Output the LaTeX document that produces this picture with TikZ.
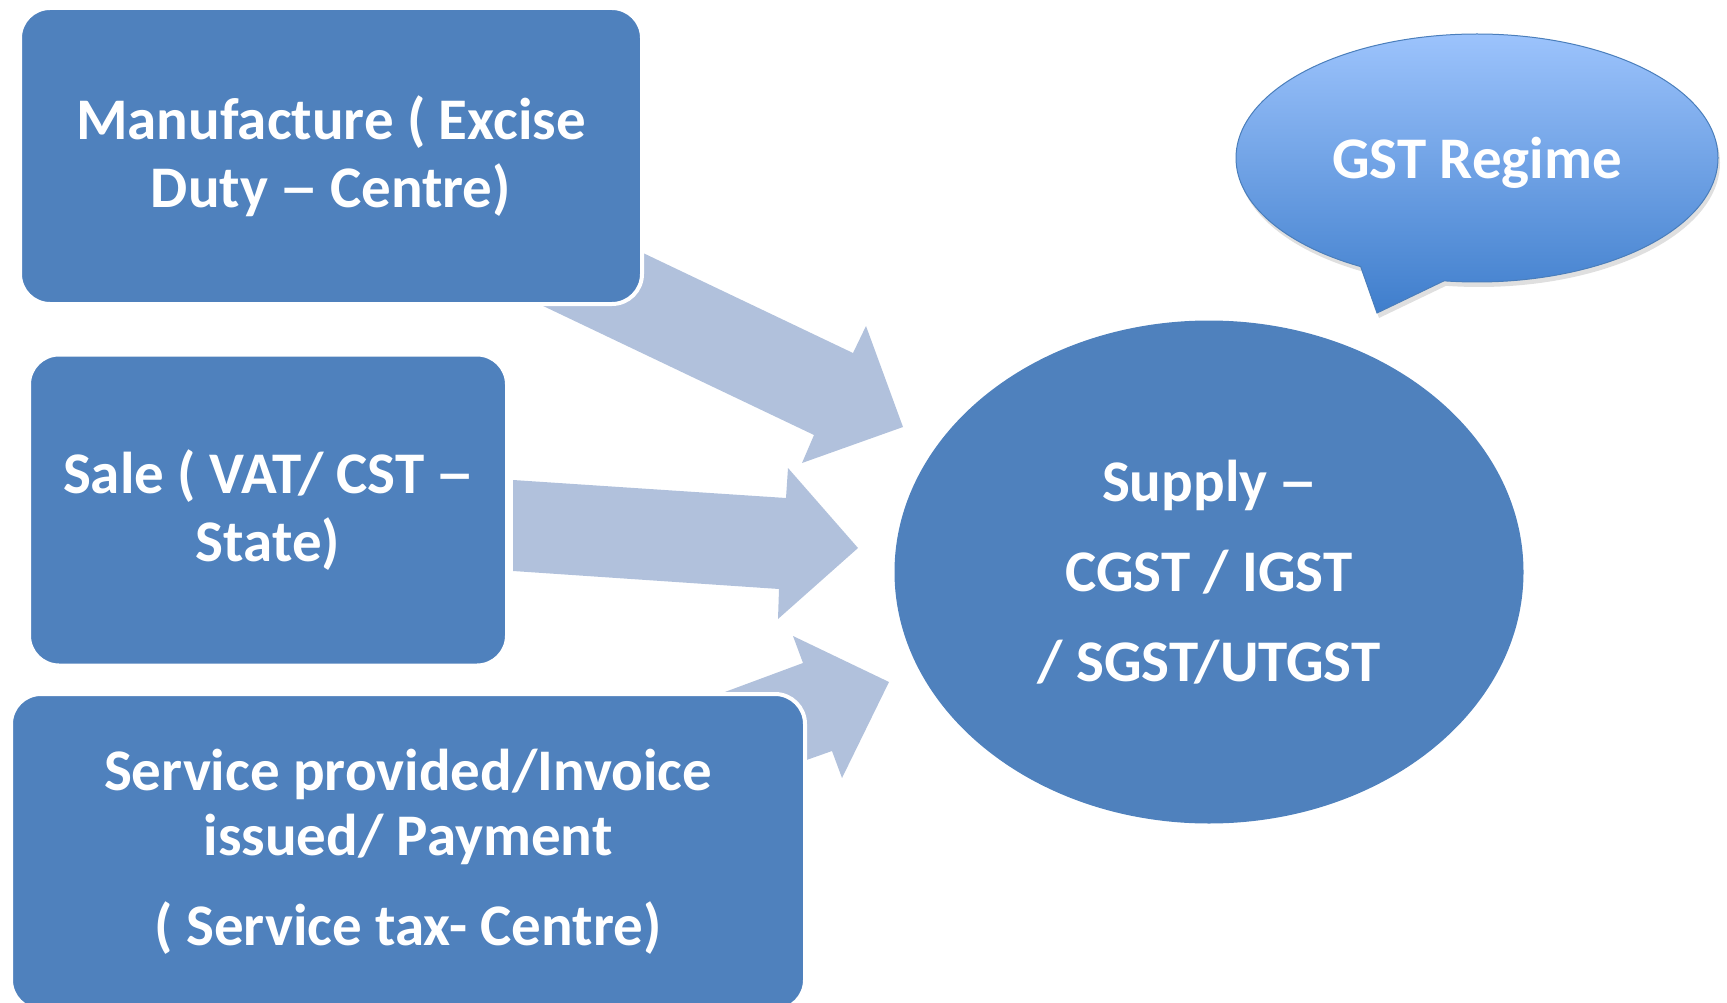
\documentclass[tikz,border=0pt]{standalone}
\usepackage{fontspec}
\setmainfont{Carlito}
\usetikzlibrary{shapes.geometric,shapes.callouts,shadows}
\definecolor{boxblue}{HTML}{4F81BD}
\definecolor{arrowblue}{HTML}{B1C1DC}
\definecolor{calltop}{HTML}{9CC3FC}
\definecolor{callbot}{HTML}{3F7ECC}
\definecolor{callline}{HTML}{4A7EBB}
\newcommand\longdash{\scalebox{0.66}[1]{---}}
\tikzset{
  stepbox/.style={rectangle, rounded corners=30pt, fill=boxblue, draw=white, line width=4pt,
    text=white, font=\bfseries\fontsize{59}{68}\selectfont, align=center, inner sep=0pt},
  blockarrow/.style={fill=arrowblue},
}
\begin{document}
\begin{tikzpicture}[x=1pt,y=-1pt]
\useasboundingbox (0,0) rectangle (1727,1003);
% block arrows
\fill[blockarrow] (557,212) -- (853,353) -- (866,326) -- (903,427) -- (802,463) -- (814,435) -- (518,294) -- cycle;
\fill[blockarrow] (513,480) -- (786,498) -- (788,468) -- (858,548) -- (778,619) -- (779,589) -- (513,571) -- cycle;
\fill[blockarrow] (679,709) -- (803,663) -- (793,636) -- (889,682) -- (842,778) -- (832,751) -- (716,792) -- cycle;
% boxes
\node[stepbox, minimum width=622pt, minimum height=296pt] (manu) at (331,156) {Manufacture ( Excise\\Duty \longdash{} Centre)};
\node[stepbox, minimum width=478pt, minimum height=311pt] (sale) at (268,510) {Sale ( VAT/ CST \longdash\\State)};
\node[stepbox, minimum width=794pt, minimum height=316pt, font=\bfseries\fontsize{59}{65}\selectfont] (serv) at (408,852)
  {Service provided/Invoice\\issued/ Payment\\[25pt]( Service tax- Centre)};
% supply ellipse
\node[ellipse, fill=boxblue, minimum width=629pt, minimum height=503pt, inner sep=0pt,
  text=white, font=\bfseries\fontsize{59}{90}\selectfont, align=center] (supply) at (1209,572)
  {Supply \longdash\\CGST / IGST\\/ SGST/UTGST};
% callout
\node[ellipse callout, callout absolute pointer={(1377,313)}, callout pointer arc=21,
  minimum width=482pt, minimum height=248pt, inner sep=0pt, text height=50pt, text depth=8pt,
  top color=calltop, bottom color=callbot, draw=callline, line width=1pt,
  drop shadow={opacity=0.25, shadow xshift=2pt, shadow yshift=-5pt},
  text=white, font=\bfseries\fontsize{59}{68}\selectfont] (gst) at (1477,158) {GST Regime};
\end{tikzpicture}
\end{document}
